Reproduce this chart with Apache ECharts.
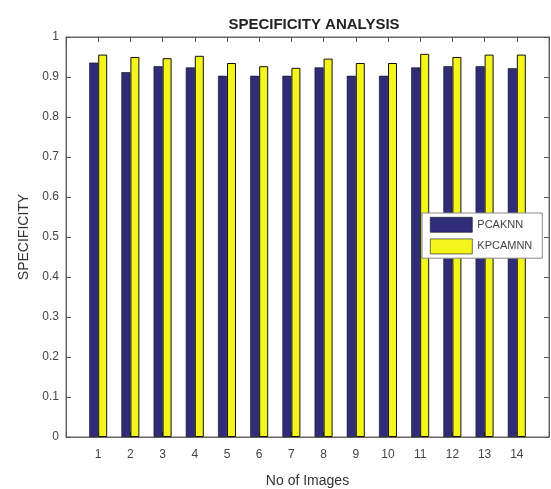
<!DOCTYPE html>
<html><head><meta charset="utf-8">
<script src="https://cdn.jsdelivr.net/npm/echarts@6/dist/echarts.min.js"></script>
<style>html,body{margin:0;padding:0;background:#fff}#c{width:551px;height:489px}</style>
</head><body><div id="c"></div>
<script>
const categories = [1,2,3,4,5,6,7,8,9,10,11,12,13,14];
const pcaknn = [0.936,0.912,0.927,0.924,0.903,0.903,0.903,0.924,0.903,0.903,0.924,0.927,0.927,0.922];
const kpcamnn = [0.956,0.950,0.947,0.953,0.935,0.927,0.923,0.946,0.935,0.935,0.958,0.950,0.956,0.956];
const yTicks = [0,0.1,0.2,0.3,0.4,0.5,0.6,0.7,0.8,0.9,1];

const chart = echarts.init(document.getElementById('c'));
const font = 'Liberation Sans, Arial, sans-serif';
const tick = { show: true, inside: true, length: 5, lineStyle: { color: '#555' } };
chart.setOption({
  animation: false,
  backgroundColor: '#fff',
  title: { text: 'SPECIFICITY ANALYSIS', left: 309, textAlign: 'center', top: 12,
    textStyle: { fontSize: 15, fontWeight: 'bold', color: '#222', fontFamily: font } },
  grid: { left: 66, right: 2, top: 37, bottom: 52, show: true, borderColor: '#666', borderWidth: 1,
    backgroundColor: '#fff', containLabel: false, outerBoundsMode: 'none' },
  legend: {
    orient: 'vertical', left: 422, top: 213, itemWidth: 42, itemHeight: 15, itemGap: 6, icon: 'rect',
    backgroundColor: '#fff', borderColor: '#888', borderWidth: 1, padding: [4, 10, 4, 8],
    itemStyle: { borderWidth: 0.6, borderColor: '#111' },
    textStyle: { fontSize: 11, color: '#444', fontFamily: font },
    data: ['PCAKNN', 'KPCAMNN']
  },
  xAxis: [{
    type: 'value', min: 0, max: 15, interval: 1, position: 'bottom',
    name: 'No of Images', nameLocation: 'middle', nameGap: 37,
    nameTextStyle: { fontSize: 14, color: '#333', fontFamily: font },
    axisLine: { show: true, onZero: false, lineStyle: { color: '#666' } },
    axisTick: tick,
    axisLabel: { fontSize: 12, color: '#444', fontFamily: font, margin: 12,
      formatter: v => (categories.indexOf(v) >= 0 ? String(v) : '') },
    splitLine: { show: false }
  }, {
    type: 'value', position: 'top', min: 0, max: 15, interval: 1, show: true,
    axisLine: { show: true, onZero: false, lineStyle: { color: '#666' } },
    axisTick: tick,
    axisLabel: { show: false }, splitLine: { show: false }
  }],
  yAxis: [{
    type: 'value', min: 0, max: 1, interval: 0.1, position: 'left',
    name: 'SPECIFICITY', nameLocation: 'middle', nameGap: 33,
    nameTextStyle: { fontSize: 14, color: '#333', fontFamily: font },
    axisLine: { show: true, onZero: false, lineStyle: { color: '#666' } },
    axisTick: tick,
    axisLabel: { fontSize: 12, color: '#444', fontFamily: font, margin: 7,
      formatter: v => { const r = Math.round(v * 10) / 10; return yTicks.indexOf(r) >= 0 ? String(r) : ''; } },
    splitLine: { show: false }
  }, {
    type: 'value', position: 'right', min: 0, max: 1, interval: 0.1, show: true,
    axisLine: { show: true, onZero: false, lineStyle: { color: '#666' } },
    axisTick: tick,
    axisLabel: { show: false }, splitLine: { show: false }
  }],
  series: [{
    name: 'PCAKNN', type: 'bar', barWidth: 9, barGap: '0%',
    itemStyle: { color: '#2f2d7a', borderColor: '#111', borderWidth: 0.6 },
    data: categories.map((c, i) => [c, pcaknn[i]])
  }, {
    name: 'KPCAMNN', type: 'bar', barWidth: 9, barGap: '0%',
    itemStyle: { color: '#f5f51e', borderColor: '#111', borderWidth: 1 },
    data: categories.map((c, i) => [c, kpcamnn[i]])
  }]
});
</script></body></html>
